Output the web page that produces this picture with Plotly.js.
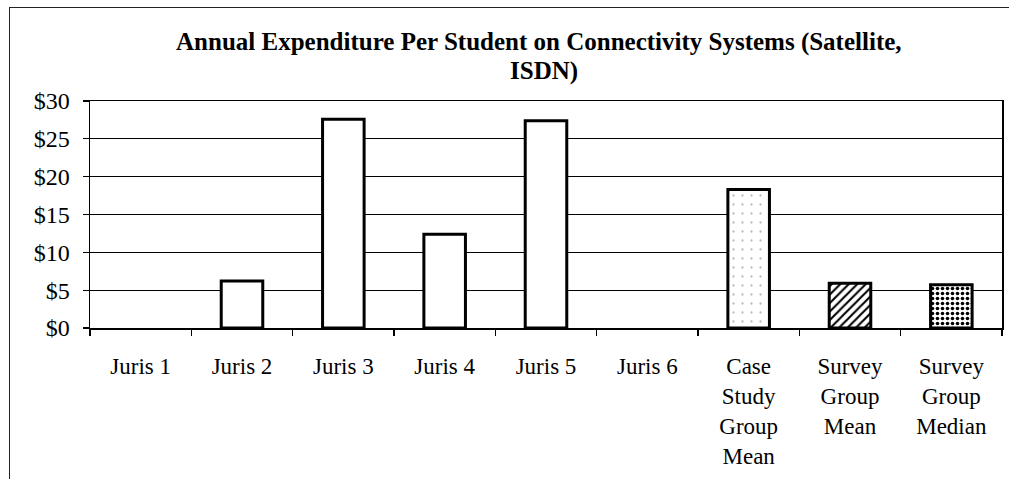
<!DOCTYPE html>
<html>
<head>
<meta charset="utf-8">
<script src="https://cdn.plot.ly/plotly-3.0.1.min.js"></script>
<style>
  html, body { margin: 0; padding: 0; background: #fff; overflow: hidden; }
  #frame { position: absolute; left: 9px; top: 7px; width: 1100px; height: 600px; border: 1.5px solid #222; pointer-events: none; }
  #chart { position: absolute; left: 0; top: 0; width: 1009px; height: 479px; }
</style>
</head>
<body>
<div id="chart"></div>
<div id="frame"></div>
<script>
const categories = ["Juris 1", "Juris 2", "Juris 3", "Juris 4", "Juris 5", "Juris 6",
  "Case<br>Study<br>Group<br>Mean", "Survey<br>Group<br>Mean", "Survey<br>Group<br>Median"];
const values = [0, 6.2, 27.6, 12.4, 27.4, 0, 18.3, 5.9, 5.7];
const patternShapes = ["", "", "", "", "", "", ".", "/", "."];
const patternFg = ["#000", "#000", "#000", "#000", "#000", "#000", "#bbb", "#000", "#000"];
const patternSize = [8, 8, 8, 8, 8, 8, 9, 6, 5];
const patternSolidity = [0.3, 0.3, 0.3, 0.3, 0.3, 0.3, 0.05, 0.35, 0.4];
const yTickVals = [0, 5, 10, 15, 20, 25, 30];
const yTickText = ["$0", "$5", "$10", "$15", "$20", "$25", "$30"];
const titleLine1 = "Annual Expenditure Per Student on Connectivity Systems (Satellite,";
const titleLine2 = "ISDN)";

const serif = "Liberation Serif, Times New Roman, serif";

const trace = {
  type: "bar",
  x: categories,
  y: values,
  width: 0.41,
  marker: {
    color: "#fff",
    line: { color: "#000", width: values.map(v => v === 0 ? 0 : 3) },
    pattern: {
      shape: patternShapes,
      fgcolor: patternFg,
      bgcolor: "#fff",
      size: patternSize,
      solidity: patternSolidity
    }
  },
  hoverinfo: "skip"
};

const layout = {
  width: 1009, height: 479,
  margin: { l: 90, r: 7, t: 101, b: 151 },
  paper_bgcolor: "rgba(0,0,0,0)",
  plot_bgcolor: "#fff",
  showlegend: false,
  font: { family: serif, color: "#000", size: 23 },
  title: {
    text: titleLine1,
    font: { family: serif, size: 25, color: "#000", weight: "bold" },
    x: 0.534, xanchor: "center", y: 0.9144, yanchor: "middle"
  },
  annotations: [{
    text: titleLine2, showarrow: false,
    xref: "paper", yref: "paper", x: 0.498, y: 1.1322,
    xanchor: "center", yanchor: "middle",
    font: { family: serif, size: 25, color: "#000", weight: "bold" }
  }],
  xaxis: {
    type: "category",
    showline: true, linecolor: "#000", linewidth: 1.5, mirror: true,
    ticks: "outside", tickson: "boundaries", ticklen: 6, tickcolor: "#000", tickwidth: 1.2,
    tickfont: { size: 23 },
    ticklabelstandoff: 17,
    showgrid: false,
    fixedrange: true
  },
  yaxis: {
    range: [0, 30],
    tickvals: yTickVals, ticktext: yTickText,
    showline: true, linecolor: "#000", linewidth: 1.5, mirror: true,
    ticks: "outside", ticklen: 6, tickcolor: "#000", tickwidth: 1.2,
    tickfont: { size: 24 },
    ticklabelstandoff: 8,
    showgrid: true, gridcolor: "#000", gridwidth: 1,
    zeroline: false,
    fixedrange: true
  },
  bargap: 0.59
};

Plotly.newPlot("chart", [trace], layout, { staticPlot: true, displayModeBar: false });
</script>
</body>
</html>
